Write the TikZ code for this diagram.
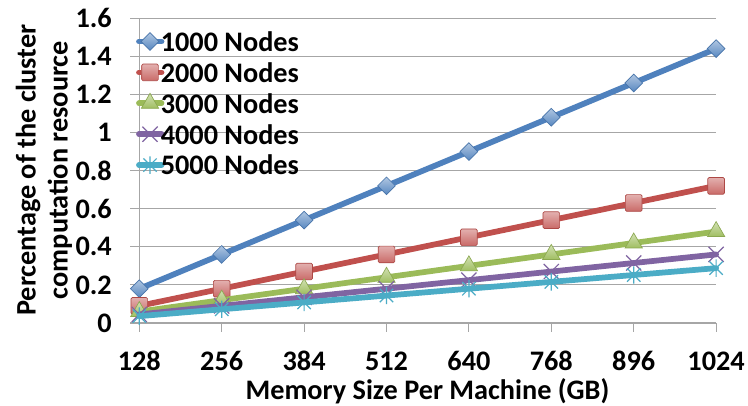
\documentclass[tikz,border=0pt]{standalone}
\usepackage{fontspec}
\setmainfont{Carlito}
\usetikzlibrary{shapes.geometric,shapes.misc}

\definecolor{gridgray}{HTML}{A6A6A6}
\definecolor{sblue}{HTML}{4F81BD}
\definecolor{sred}{HTML}{C0504D}
\definecolor{sgreen}{HTML}{9BBB59}
\definecolor{spurple}{HTML}{8064A2}
\definecolor{saqua}{HTML}{4BACC6}

\tikzset{
  gridline/.style={draw=gridgray, line width=0.8pt},
  serie/.style={line width=4.3pt, line join=round, line cap=round},
  lbl/.style={font=\fontsize{21.2}{24}\selectfont\bfseries, inner sep=0pt, text=black},
  diamondmark/.style={diamond, minimum width=13.5pt, minimum height=13.5pt, inner sep=0pt,
    top color=sblue!45!white, bottom color=sblue!95!white, draw=sblue!90!black, line width=0.5pt},
  squaremark/.style={rectangle, minimum size=12.5pt, inner sep=0pt, rounded corners=1pt,
    top color=sred!45!white, bottom color=sred!85!white, draw=sred!90!black, line width=0.5pt},
  trianglemark/.style={regular polygon, regular polygon sides=3, minimum size=15pt, inner sep=0pt,
    top color=sgreen!45!white, bottom color=sgreen!95!white, draw=sgreen!90!black, line width=0.5pt},
  crossmark/.style={cross out, minimum size=10.5pt, inner sep=0pt, draw=spurple, line width=0.9pt},
  starstroke/.style={draw=saqua, line width=0.9pt},
}

\begin{document}
\begin{tikzpicture}[x=0.75pt, y=-0.75pt]
  \useasboundingbox[fill=white] (0,0) rectangle (748,406);

  % horizontal gridlines with tick stubs left of the value axis
  \foreach \j in {1,...,8} {
    \draw[gridline] (130,{323-38.1*\j}) -- (716.1,{323-38.1*\j});
  }
  % value axis and category axis
  \draw[gridline] (139.3,18.2) -- (139.3,323);
  \draw[gridline] (130,323) -- (716.1,323);
  \foreach \i in {0,...,7} {
    \draw[gridline] ({139.3+82.4*\i},323) -- ({139.3+82.4*\i},331.5);
  }

  % value axis labels
  \foreach \v/\t [count=\j from 0] in {0/0,0.2/0.2,0.4/0.4,0.6/0.6,0.8/0.8,1/1,1.2/1.2,1.4/1.4,1.6/1.6} {
    \node[lbl, anchor=east] (ytick\j) at (112,{323-190.5*\v}) {\t};
  }
  % category labels
  \foreach \c [count=\i from 0] in {128,256,384,512,640,768,896,1024} {
    \node[lbl] (xtick\i) at ({139.3+82.4*\i},361) {\c};
  }

  % axis titles
  \node[lbl] (xtitle) at (427.5,391.5) {Memory Size Per Machine (GB)};
  \node[lbl, rotate=90, align=center] (ytitle) at (44,170)
    {Percentage of the cluster\\computation resource};

  % data points: share for k thousand nodes grows linearly with memory
  \foreach \k in {1,...,5} {
    \foreach \i in {0,...,7} {
      \coordinate (p\k-\i) at ({139.3+82.4*\i},{323-190.5*0.18*(\i+1)/\k});
    }
  }

  % legend entries
  \foreach \k/\col in {1/sblue,2/sred,3/sgreen,4/spurple,5/saqua} {
    \coordinate (la\k) at (139,{41.5+30.9*(\k-1)});
    \coordinate (lb\k) at (161.5,{41.5+30.9*(\k-1)});
    \coordinate (lm\k) at (150,{41.5+30.9*(\k-1)});
    \draw[serie, \col] (la\k) -- (lb\k);
    \node[lbl, anchor=west] (leg\k) at (160.5,{41.5+30.9*(\k-1)}) {\k000 Nodes};
  }
  \node[diamondmark] (lmk1) at (lm1) {};
  \node[squaremark] (lmk2) at (lm2) {};
  \node[trianglemark] (lmk3) at (lm3) {};
  \node[crossmark] (lmk4) at (lm4) {};
  \draw[starstroke] (lm5) ++(-5pt,-5pt) -- ++(10pt,10pt) (lm5) ++(-5pt,5pt) -- ++(10pt,-10pt)
                    (lm5) ++(0,-6.5pt) -- ++(0,13pt);

  % series 1000 nodes
  \draw[serie, sblue] (p1-0) \foreach \i in {1,...,7} { -- (p1-\i) };
  \foreach \i in {0,...,7} { \node[diamondmark] (m1-\i) at (p1-\i) {}; }
  % series 2000 nodes
  \draw[serie, sred] (p2-0) \foreach \i in {1,...,7} { -- (p2-\i) };
  \foreach \i in {0,...,7} { \node[squaremark] (m2-\i) at (p2-\i) {}; }
  % series 3000 nodes
  \draw[serie, sgreen] (p3-0) \foreach \i in {1,...,7} { -- (p3-\i) };
  \foreach \i in {0,...,7} { \node[trianglemark] (m3-\i) at (p3-\i) {}; }
  % series 4000 nodes
  \draw[serie, spurple] (p4-0) \foreach \i in {1,...,7} { -- (p4-\i) };
  \foreach \i in {0,...,7} { \node[crossmark] (m4-\i) at (p4-\i) {}; }
  % series 5000 nodes
  \draw[serie, saqua] (p5-0) \foreach \i in {1,...,7} { -- (p5-\i) };
  \foreach \i in {0,...,7} {
    \draw[starstroke] (p5-\i) ++(-5pt,-5pt) -- ++(10pt,10pt) (p5-\i) ++(-5pt,5pt) -- ++(10pt,-10pt)
                      (p5-\i) ++(0,-6.5pt) -- ++(0,13pt);
  }
\end{tikzpicture}
\end{document}
